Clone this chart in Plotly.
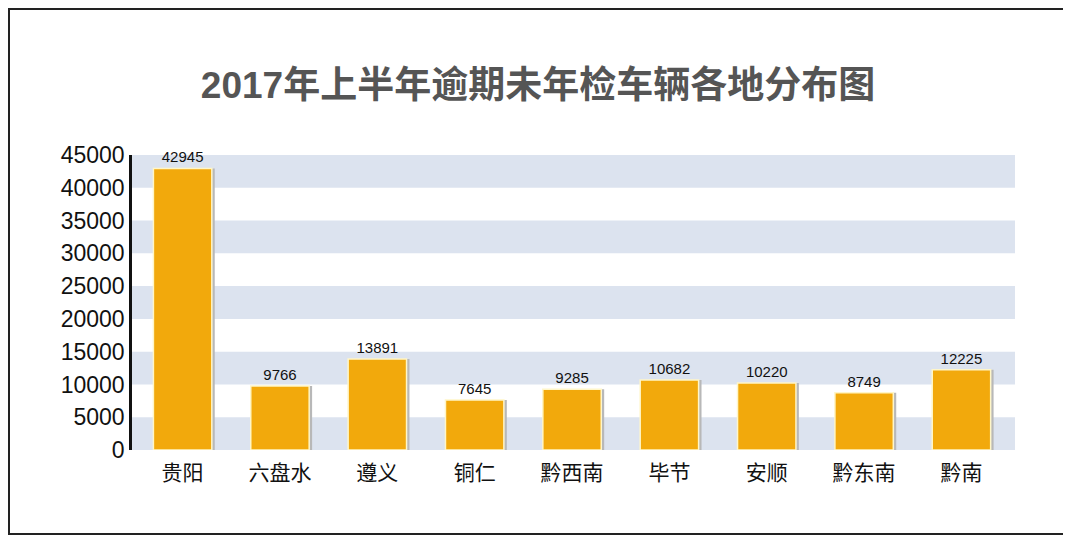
import plotly.graph_objects as go

regions = ["贵阳", "六盘水", "遵义", "铜仁", "黔西南", "毕节", "安顺", "黔东南", "黔南"]
counts = [42945, 9766, 13891, 7645, 9285, 10682, 10220, 8749, 12225]
y_ticks = list(range(0, 45001, 5000))
band_starts = [0, 10000, 20000, 30000, 40000]

font = "Liberation Sans, Noto Sans CJK SC, sans-serif"
# page body has an 8px margin, so the figure is a bit smaller than the window
W, H = 1060, 528
L, R, T, B = 124, 53, 147, 86
pw, ph = W - L - R, H - T - B

fig = go.Figure()

# shadow bars
fig.add_trace(go.Bar(
    x=regions, y=counts, width=0.6, offset=-0.27,
    marker=dict(color="#b8b8b8", line=dict(width=0)),
    hoverinfo="skip", showlegend=False,
))
fig.add_trace(go.Bar(
    x=regions, y=counts, width=0.6, offset=-0.3,
    marker=dict(color="#f2a90c", line=dict(color="#fff6c8", width=1.5)),
    text=[str(c) for c in counts], textposition="outside",
    textfont=dict(size=15, color="#111", family=font),
    cliponaxis=False, showlegend=False,
))

shapes = [dict(type="rect", xref="paper", yref="y", x0=0, x1=1,
               y0=b, y1=b + 5000, fillcolor="#dce3ef",
               layer="below", line=dict(width=0)) for b in band_starts]
# outer frame (pixel positions converted to paper coords)
shapes.append(dict(type="rect", xref="paper", yref="paper",
                   x0=(1 - L) / pw, x1=(W - 2 - L) / pw,
                   y0=-(B - 2) / ph, y1=(ph + T - 1) / ph,
                   line=dict(color="#222", width=2), layer="below"))

fig.update_layout(
    width=W, height=H,
    margin=dict(l=L, r=R, t=T, b=B),
    paper_bgcolor="white", plot_bgcolor="white",
    barmode="overlay",
    title=dict(text="<b>2017年上半年逾期未年检车辆各地分布图</b>",
               x=0.5, xanchor="center", y=1 - 77 / H, yanchor="middle",
               font=dict(size=37, color="#555", family=font)),
    shapes=shapes,
    xaxis=dict(showline=False, ticks="outside", ticklen=4, tickcolor="rgba(0,0,0,0)",
               showgrid=False, automargin=False,
               tickfont=dict(size=21, color="#111", family=font),
               range=[-0.52, 8.55]),
    yaxis=dict(range=[0, 45000], tickvals=y_ticks, tickformat="d", showgrid=False,
               automargin=False,
               showline=True, linecolor="#111", linewidth=2.5, zeroline=False,
               tickfont=dict(size=23, color="#111", family=font)),
)

fig.write_html("out.html")
